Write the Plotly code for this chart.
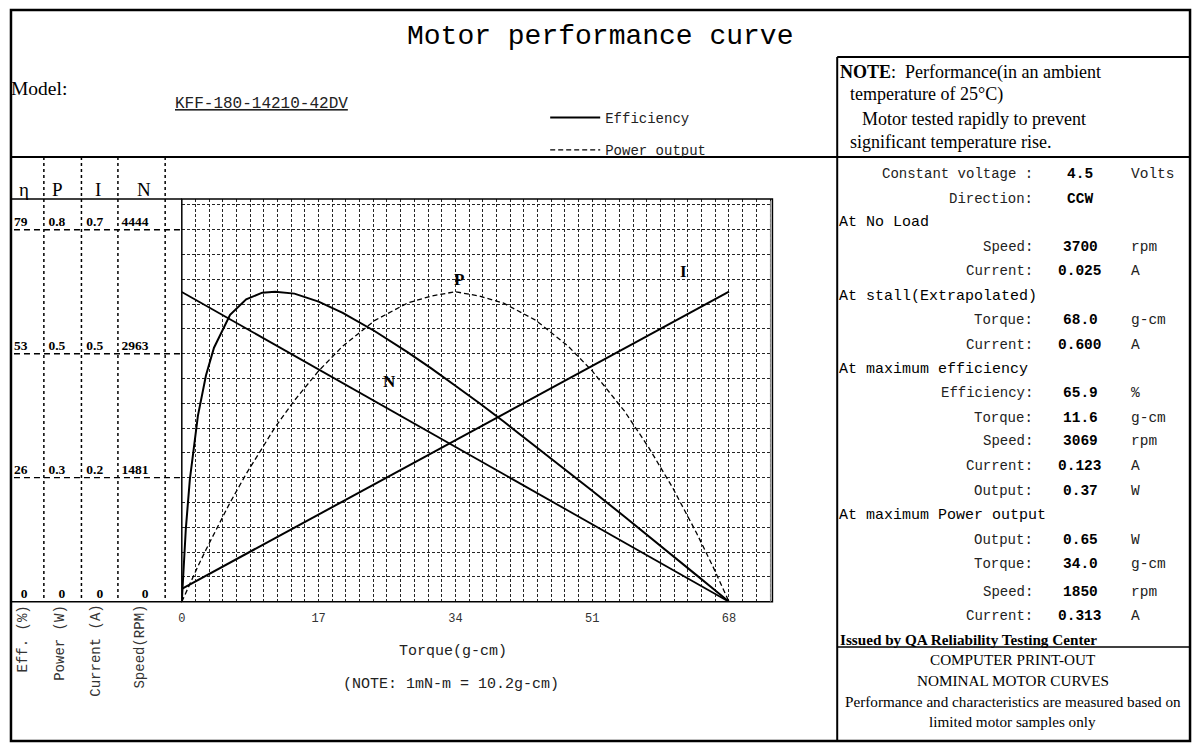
import plotly.graph_objects as go

W, H = 1200, 749

# ---------------- data ----------------
TORQUE = [0, 0.25, 0.5, 1, 2, 3, 4, 6, 8, 10, 11.6, 14, 17, 20, 24, 28, 31, 34,
          37, 40, 44, 48, 51, 55, 58, 61, 64, 66, 68]
EFFICIENCY = [0, 8.5, 15.5, 26.0, 39.5, 48.1, 54.0, 61.0, 64.3, 65.7, 65.9, 65.5,
              63.8, 61.4, 57.5, 53.1, 49.6, 45.9, 42.2, 38.3, 33.0, 27.7, 23.6,
              18.1, 14.0, 9.8, 5.6, 2.8, 0]
POWER = [0, 0.0095, 0.019, 0.037, 0.074, 0.109, 0.143, 0.208, 0.268, 0.324, 0.366,
         0.422, 0.484, 0.536, 0.590, 0.626, 0.641, 0.65, 0.641, 0.626, 0.590, 0.536,
         0.484, 0.400, 0.324, 0.239, 0.143, 0.074, 0]
LINE_TORQUE = [0, 68]
SPEED = [3700, 0]
CURRENT = [0.025, 0.600]

X_TICKS = [0, 17, 34, 51, 68]
ETA_TICKS = [0, 26.36, 52.72, 79.08]
ETA_LABELS = ["0", "26", "53", "79"]
P_TICKS = [0, 0.26, 0.52, 0.78]
P_LABELS = ["0", "0.3", "0.5", "0.8"]
I_TICKS = [0, 0.24, 0.48, 0.72]
I_LABELS = ["0", "0.2", "0.5", "0.7"]
N_TICKS = [0, 1481.3, 2962.7, 4444]
N_LABELS = ["0", "1481", "2963", "4444"]

SPEC_LABELS = ["Constant voltage :", "Direction:", None, "Speed:", "Current:", None,
               "Torque:", "Current:", None, "Efficiency:", "Torque:", "Speed:",
               "Current:", "Output:", None, "Output:", "Torque:", "Speed:", "Current:"]
SPEC_HEADERS = [None, None, "At No Load", None, None, "At stall(Extrapolated)",
                None, None, "At maximum efficiency", None, None, None, None, None,
                "At maximum Power output", None, None, None, None]
SPEC_VALUES = ["4.5", "CCW", None, "3700", "0.025", None, "68.0", "0.600", None,
               "65.9", "11.6", "3069", "0.123", "0.37", None, "0.65", "34.0", "1850", "0.313"]
SPEC_UNITS = ["Volts", "", None, "rpm", "A", None, "g-cm", "A", None, "%", "g-cm",
              "rpm", "A", "W", None, "W", "g-cm", "rpm", "A"]

# ---------------- layout helpers ----------------
def px(x):
    return x / W

def py(y):
    return 1 - y / H

MONO = "Liberation Mono"
SERIF = "Liberation Serif"

X0, X1 = 178.4, 771.0
YB, YT = 601.7, 199.0
SCALE = 16.24 / 15.0

GRID = dict(showgrid=True, gridcolor="#262626", gridwidth=1, griddash="3px,2px")

fig = go.Figure()

fig.add_trace(go.Scatter(x=TORQUE, y=EFFICIENCY, mode="lines", name="Efficiency",
                         line=dict(color="black", width=2), yaxis="y",
                         legendgroup="a"))
fig.add_trace(go.Scatter(x=TORQUE, y=POWER, mode="lines", name="Power output",
                         line=dict(color="black", width=1.3, dash="5px,3px"),
                         yaxis="y2", legendgroup="b"))
fig.add_trace(go.Scatter(x=LINE_TORQUE, y=CURRENT, mode="lines", name="Current",
                         line=dict(color="black", width=2), yaxis="y3",
                         showlegend=False))
fig.add_trace(go.Scatter(x=LINE_TORQUE, y=SPEED, mode="lines", name="Speed",
                         line=dict(color="black", width=1.8), yaxis="y4",
                         showlegend=False))

tickfont = dict(family=SERIF, size=13.5, color="black", weight="bold")

def side_axis(ticks, labels, pos, extra=None):
    d = dict(range=[0, ticks[-1] * SCALE], tickmode="array", tickvals=ticks,
             ticktext=labels, anchor="free", position=px(pos), side="left",
             showline=False, zeroline=False, ticks="", tickfont=tickfont,
             ticklabelshift=-8, ticklabelstandoff=0, domain=[py(YB), py(YT)])
    if extra:
        d.update(extra)
    return d

fig.update_layout(
    width=W, height=H,
    margin=dict(l=0, r=0, t=0, b=0),
    paper_bgcolor="white", plot_bgcolor="white",
    xaxis=dict(domain=[px(X0), px(X1)], range=[0, (X1 - X0) / (549.0 / 68)],
               tickmode="array", tickvals=X_TICKS, ticks="", showline=False,
               zeroline=False, anchor="y",
               tickfont=dict(family=MONO, size=12, color="#333"),
               ticklabelstandoff=7,
               minor=dict(dtick=1.7, tick0=0, **GRID), **GRID),
    yaxis=side_axis(ETA_TICKS, ETA_LABELS, 23.5,
                    dict(minor=dict(dtick=79.08 / 15, tick0=0, **GRID), **GRID)),
    yaxis2=side_axis(P_TICKS, P_LABELS, 61.5, dict(overlaying="y", showgrid=False)),
    yaxis3=side_axis(I_TICKS, I_LABELS, 99.5, dict(overlaying="y", showgrid=False)),
    yaxis4=side_axis(N_TICKS, N_LABELS, 145, dict(overlaying="y", showgrid=False)),
    showlegend=True,
    legend=dict(x=px(543), y=py(102), xanchor="left", yanchor="top",
                bgcolor="rgba(0,0,0,0)", font=dict(family=MONO, size=14, color="#222"),
                tracegroupgap=11, itemwidth=50),
)

shapes = []
def line(x0, y0, x1, y1, w=2, dash="solid", yref="paper", color="black"):
    shapes.append(dict(type="line", xref="paper", yref=yref,
                       x0=px(x0), x1=px(x1),
                       y0=py(y0) if yref == "paper" else y0,
                       y1=py(y1) if yref == "paper" else y1,
                       line=dict(color=color, width=w, dash=dash), layer="above"))

# outer border and panel separators
shapes.append(dict(type="rect", xref="paper", yref="paper", x0=px(7), x1=px(1190),
                   y0=py(741), y1=py(10), line=dict(color="black", width=2.5)))
line(836, 57, 1190, 57)
line(836, 57, 836, 741)
line(7, 157, 1190, 157)
line(836, 647, 1190, 647, w=1.5)
# plot frame
shapes.append(dict(type="rect", xref="paper", yref="paper", x0=px(X0), x1=px(X1),
                   y0=py(YB), y1=py(YT), line=dict(color="black", width=1.5),
                   layer="above"))
line(X1 - 2, YT + 2, X1 - 2, YB, w=1, color="#888")
line(7, YT, X0, YT, w=1.5)
line(7, YB, X0, YB, w=1.5)
# dotted column separators
for cx in [40, 77.7, 114.3, 161.7]:
    line(cx, 157, cx, YB, w=1.5, dash="dot")
# dashed value lines across the axis columns
for v in ETA_TICKS[1:]:
    line(10, v, X0, v, w=1.3, dash="6px,4px", yref="y")

fig.update_layout(shapes=shapes)

ann = []
def text(x, y, s, size=14, family=MONO, xanchor="center", yanchor="middle",
         angle=0, color="black", xref="paper", yref="paper"):
    ann.append(dict(x=px(x) if xref == "paper" else x,
                    y=py(y) if yref == "paper" else y,
                    xref=xref, yref=yref, text=s, showarrow=False,
                    xanchor=xanchor, yanchor=yanchor, textangle=angle,
                    font=dict(family=family, size=size, color=color)))

text(598, 36, "Motor performance curve", size=28)
text(5, 89, "Model:", size=19.5, family=SERIF, xanchor="left")
text(170, 104, "<u>KFF-180-14210-42DV</u>", size=16, xanchor="left", color="#222")

text(837, 72, "<b>NOTE</b>:  Performance(in an ambient", size=18, family=SERIF, xanchor="left")
text(847, 95, "temperature of 25°C)", size=18, family=SERIF, xanchor="left")
text(859, 119, "Motor tested rapidly to prevent", size=18, family=SERIF, xanchor="left")
text(847, 142, "significant temperature rise.", size=18, family=SERIF, xanchor="left")

for hx, h in zip([20, 54, 94, 140], ["η", "P", "I", "N"]):
    text(hx, 190, h, size=19, family=SERIF)

for tx, t in zip([19, 56, 92, 136], ["Eff. (%)", "Power (W)", "Current (A)", "Speed(RPM)"]):
    text(tx, 603, t, size=14, angle=-90, yanchor="top", color="#333")

text(450, 651, "Torque(g-cm)", size=15, color="#222")
text(448, 684, "(NOTE: 1mN-m = 10.2g-cm)", size=15, color="#222")

text(34.5, 0.675, "<b>P</b>", size=17, family=SERIF, xref="x", yref="y2")
text(62.4, 0.64, "<b>I</b>", size=17, family=SERIF, xref="x", yref="y3")
text(25.8, 2625, "<b>N</b>", size=17, family=SERIF, xref="x", yref="y4")

row_y = [174, 199, 222, 247, 271, 296, 320, 345, 369, 393, 418, 441, 466, 491,
         515, 540, 564, 592, 616]
for ry, lab, hd, val, unit in zip(row_y, SPEC_LABELS, SPEC_HEADERS, SPEC_VALUES, SPEC_UNITS):
    if hd:
        text(836, ry, hd, size=15, xanchor="left")
    if lab:
        text(1034, ry, lab, size=14, xanchor="right", color="#222")
    if val:
        text(1080, ry, "<b>" + val + "</b>", size=14.5)
    if unit:
        text(1129, ry, unit, size=14.5, xanchor="left", color="#222")

text(837, 639, "<b>Issued by QA Reliability Testing Center</b>", size=15.2, family=SERIF, xanchor="left")
text(1012, 659, "COMPUTER PRINT-OUT", size=15.2, family=SERIF)
text(1012, 680, "NOMINAL MOTOR CURVES", size=15.2, family=SERIF)
text(1012, 701, "Performance and characteristics are measured based on", size=15.2, family=SERIF)
text(1012, 721, "limited motor samples only", size=15.2, family=SERIF)

fig.update_layout(annotations=ann)

fig.write_html("out.html")
